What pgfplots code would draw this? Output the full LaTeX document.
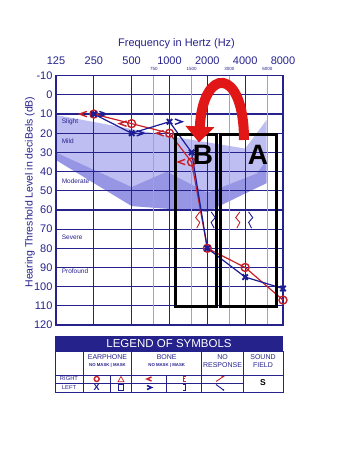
\documentclass[border=0pt]{standalone}
\usepackage{fontspec}
\setmainfont{Liberation Sans}
\usepackage{pgfplots}
\usepackage{pgfplotstable}
\pgfplotsset{compat=1.18}
\usetikzlibrary{arrows.meta}
\definecolor{navy}{RGB}{38,34,140}
\definecolor{bl}{RGB}{28,28,150}
\definecolor{rd}{RGB}{200,32,40}
\definecolor{bananaL}{RGB}{190,190,243}
\definecolor{bananaD}{RGB}{150,150,228}
\definecolor{gridminor}{RGB}{160,160,210}
\definecolor{arrowred}{RGB}{225,22,22}

\pgfdeclareplotmark{bcR}{%
  \pgfpathmoveto{\pgfqpoint{1.1\pgfplotmarksize}{0.8\pgfplotmarksize}}%
  \pgfpathlineto{\pgfqpoint{-1.1\pgfplotmarksize}{0pt}}%
  \pgfpathlineto{\pgfqpoint{1.1\pgfplotmarksize}{-0.8\pgfplotmarksize}}%
  \pgfusepathqstroke}
\pgfdeclareplotmark{bcL}{%
  \pgfpathmoveto{\pgfqpoint{-1.1\pgfplotmarksize}{0.8\pgfplotmarksize}}%
  \pgfpathlineto{\pgfqpoint{1.1\pgfplotmarksize}{0pt}}%
  \pgfpathlineto{\pgfqpoint{-1.1\pgfplotmarksize}{-0.8\pgfplotmarksize}}%
  \pgfusepathqstroke}

% x = octave index log2(f/125): 250->1, 500->2, 1000->3, 1500->3.585, 2000->4, 4000->5, 8000->6
\pgfplotstableread{
o db
1 10
2 15
3 20
3.585 35
4 80
5 90
6 107
}\rightair
\pgfplotstableread{
o db
1 10
2 20
3 14
3.585 30
4 80
5 95
6 101
}\leftair
\pgfplotstableread{
o db
0.72 10
1.77 15
2.75 20
3.32 35
}\rightbone
\pgfplotstableread{
o db
1.24 10
2.23 20
3.24 14
}\leftbone

\begin{document}
\begin{tikzpicture}
\path (0pt,0pt) rectangle (344pt,458pt);
\begin{axis}[
  set layers,
  at={(56pt,133pt)}, anchor=south west,
  scale only axis, width=227pt, height=249.3pt,
  xmin=0, xmax=6, ymin=-10, ymax=120, y dir=reverse,
  clip=false,
  xtick={0,...,6}, xticklabels={125,250,500,1000,2000,4000,8000},
  xticklabel pos=upper,
  ytick={-10,0,...,120},
  yticklabels={-10,0,10,20,30,40,50,60,70,80,90,100,110,120},
  extra x ticks={2.585,3.585,4.585,5.585},
  extra x tick labels={750,1500,3000,6000},
  extra x tick style={grid=major, major grid style={gridminor, line width=0.6pt},
     tick label style={font=\fontsize{4.5}{5}\selectfont, yshift=-6pt}},
  grid=major, major grid style={navy, line width=1.2pt},
  axis line style={navy, line width=1.3pt},
  major tick length=0pt,
  tick label style={font=\fontsize{11}{12}\selectfont, text=navy},
  x tick label style={yshift=8pt},
  /pgf/number format/assume math mode=true,
]
% speech banana
\addplot[fill=bananaL, draw=none, on layer=axis background] coordinates
 {(0,10.5) (3.15,22) (5,28) (5.57,13) (5.57,34) (5.3,41) (4,51) (2.93,40) (2,48) (0,30)};
\addplot[fill=bananaD, draw=none, on layer=axis background] coordinates
 {(0,30) (2,48) (2.93,40) (4,51) (5.3,41) (5.57,34) (5.57,46) (4,61) (2,58) (0,34)};

% degree labels
\node[anchor=west, text=navy, font=\fontsize{6.5}{7}\selectfont] at (axis cs:0.06,14) {Slight};
\node[anchor=west, text=navy, font=\fontsize{6.5}{7}\selectfont] at (axis cs:0.06,24) {Mild};
\node[anchor=west, text=navy, font=\fontsize{6.5}{7}\selectfont] at (axis cs:0.06,45) {Moderate};
\node[anchor=west, text=navy, font=\fontsize{6.5}{7}\selectfont] at (axis cs:0.06,74.5) {Severe};
\node[anchor=west, text=navy, font=\fontsize{6.5}{7}\selectfont] at (axis cs:0.06,92) {Profound};

% no response squiggles
\addplot[rd, line width=0.9pt] coordinates {(3.80,61) (3.69,64) (3.80,66.5) (3.72,69.5)};
\addplot[bl, line width=0.9pt] coordinates {(4.10,61) (4.21,64) (4.10,66.5) (4.18,69.5)};
\addplot[rd, line width=0.9pt] coordinates {(4.86,61) (4.75,64) (4.86,66.5) (4.78,69.5)};
\addplot[bl, line width=0.9pt] coordinates {(5.09,61) (5.20,64) (5.09,66.5) (5.17,69.5)};

% air conduction
\addplot[rd, line width=1.2pt, mark=o, mark size=4pt, mark options={line width=1.4pt}] table[x=o,y=db] {\rightair};
\addplot[bl, line width=1.2pt, mark=x, mark size=3.8pt, mark options={line width=2pt}] table[x=o,y=db] {\leftair};
% bone conduction
\addplot[rd, only marks, mark=bcR, mark size=3.3pt, mark options={line width=1.4pt}] table[x=o,y=db] {\rightbone};
\addplot[bl, only marks, mark=bcL, mark size=3.3pt, mark options={line width=1.4pt}] table[x=o,y=db] {\leftbone};

% boxes
\draw[black, line width=3pt] (axis cs:3.16,20.5) rectangle (axis cs:4.23,110.5);
\draw[black, line width=3pt] (axis cs:4.34,20.5) rectangle (axis cs:5.84,110.5);
\end{axis}

\begin{scope}[x=1pt,y=1pt]
% titles
\node[text=navy, font=\fontsize{11}{13}\selectfont] at (176.5,414) {Frequency in Hertz (Hz)};
\node[rotate=90, text=navy, font=\fontsize{10.5}{12}\selectfont] at (30,266) {Hearing Threshold Level in deciBels (dB)};

% red curved arrow
\draw[arrowred, line width=10pt, -{Triangle[length=16pt,width=28pt]}]
  (244,318) .. controls (244,392) and (203,392) .. (199,315.5);
\node[font=\fontsize{28}{30}\selectfont\bfseries] at (203,303) {B};
\node[font=\fontsize{28}{30}\selectfont\bfseries] at (258,303) {A};

% legend of symbols
\fill[navy] (55,122) rectangle (283,107);
\node[text=white, font=\fontsize{11.5}{12}\selectfont] at (169,114.5) {LEGEND OF SYMBOLS};
\draw[navy, line width=0.8pt] (55,107) rectangle (283,66);
\foreach \xx in {83.3,131.7,201.7,243.3} \draw[navy, line width=0.8pt] (\xx,107) -- (\xx,66);
\foreach \xx in {110,166} \draw[navy, line width=0.6pt] (\xx,83) -- (\xx,66);
\draw[navy, line width=0.8pt] (55,83) -- (283,83);
\draw[navy, line width=0.8pt] (55,75) -- (243.3,75);
\begin{scope}[every node/.style={text=navy, inner sep=0pt}]
\node[font=\fontsize{7}{8}\selectfont] at (107.5,100.5) {EARPHONE};
\node[font=\fontsize{4.3}{5}\selectfont\bfseries] at (107.5,93) {NO MASK | MASK};
\node[font=\fontsize{7}{8}\selectfont] at (166.7,100.5) {BONE};
\node[font=\fontsize{4.3}{5}\selectfont\bfseries] at (166.7,93) {NO MASK | MASK};
\node[font=\fontsize{7}{8}\selectfont] at (222.5,100.5) {NO};
\node[font=\fontsize{7}{8}\selectfont] at (222.5,93) {RESPONSE};
\node[font=\fontsize{7}{8}\selectfont] at (263,100.5) {SOUND};
\node[font=\fontsize{7}{8}\selectfont] at (263,93) {FIELD};
\node[font=\fontsize{5.8}{6}\selectfont] at (69,79) {RIGHT};
\node[font=\fontsize{5.8}{6}\selectfont] at (69,70.5) {LEFT};
\end{scope}
\draw[rd, line width=1.4pt] (96.7,79) circle (2.5);
\node[text=bl, font=\fontsize{9}{9}\selectfont\bfseries, inner sep=0pt] at (96.7,70.5) {X};
\draw[rd, line width=0.7pt] (118,76.3) -- (124,76.3) -- (121,81.6) -- cycle;
\draw[bl, line width=0.7pt] (118.3,67.8) rectangle (123.7,73.2);
\draw[rd, line width=1.5pt] (151.5,81) -- (147,79) -- (151.5,77);
\draw[bl, line width=1.5pt] (147,72.5) -- (151.5,70.5) -- (147,68.5);
\draw[rd, line width=0.7pt] (186,81.8) -- (183.5,81.8) -- (183.5,76.5) -- (186,76.5);
\draw[rd, line width=0.7pt] (183.5,79.2) -- (185,79.2);
\draw[bl, line width=0.7pt] (182.5,73.2) -- (185,73.2) -- (185,68) -- (182.5,68);
\draw[rd, line width=0.9pt] (216,76.5) -- (223.5,81.5) -- (221.5,81.8);
\draw[bl, line width=0.9pt] (216,73.5) -- (223.5,68);
\fill[bl] (223.5,68) circle (0.9);
\node[font=\fontsize{8.5}{9}\selectfont\bfseries, inner sep=0pt] at (263,75) {S};
\end{scope}
\end{tikzpicture}
\end{document}
